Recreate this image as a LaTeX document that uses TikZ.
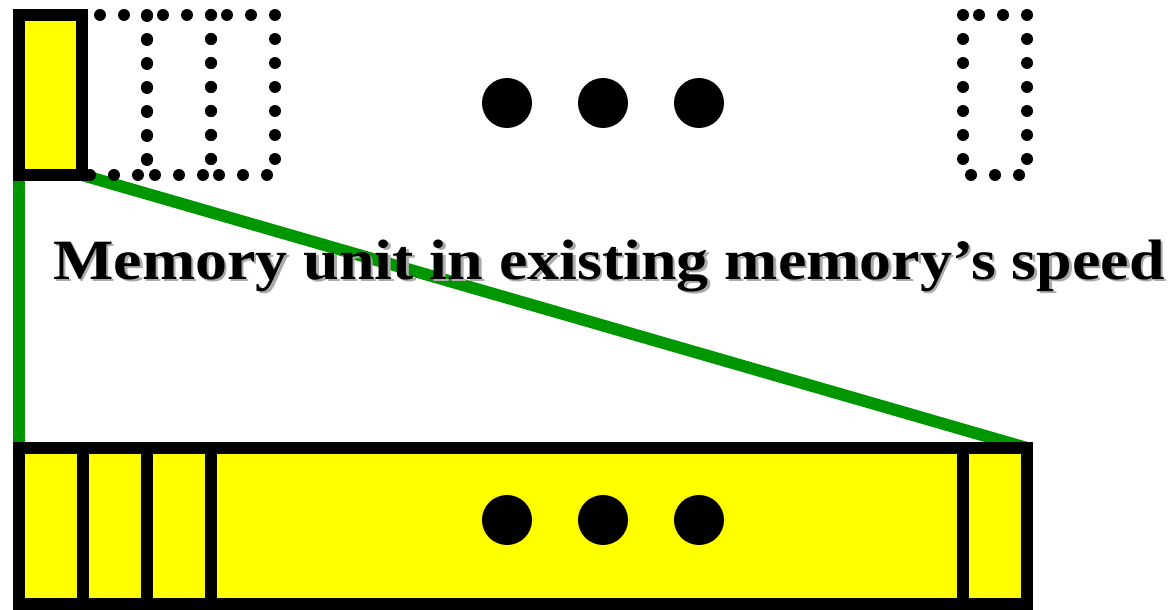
\documentclass[tikz,border=0pt]{standalone}
\usepackage{fontspec}
\setmainfont{Liberation Serif}
\usetikzlibrary{positioning, calc, backgrounds}
\definecolor{vert}{RGB}{0,150,0}
\definecolor{jaune}{RGB}{255,255,0}
\definecolor{ombre}{RGB}{170,170,170}

\begin{document}
\begin{tikzpicture}[x=0.5pt, y=-0.5pt,
				cell/.style={draw=black, fill=jaune, line width=6pt, inner sep=0pt, outer sep=0pt,
					minimum width=32pt, minimum height=80pt},
				vide/.style={inner sep=0pt, outer sep=0pt,
					minimum width=32pt, minimum height=80pt},
				pointille/.style={draw=black, line width=6pt, line cap=round,
					dash pattern=on 0pt off 12pt},
				bar/.style={draw=black, fill=jaune, line width=6pt, inner sep=0pt, outer sep=0pt,
					minimum height=78pt},
				pt/.style={circle, fill=black, inner sep=0pt, minimum size=25pt},
				lien/.style={draw=vert, line width=6pt},
				titre/.style={anchor=base west, inner sep=0pt,
					font=\fontsize{28.5}{30}\selectfont\bfseries}
				]
				\useasboundingbox (0,0) rectangle (1174,610);
				
				% Ligne du haut
				\node[vide, minimum width=32.5pt] (v1) at (114.5,95) {};
				\node[vide] (v2) at (179,95) {};
				\node[vide] (v3) at (243,95) {};
				\node[vide] (vn) at (995,95) {};
				\foreach \v in {v1, v2, v3, vn}
				\draw[pointille] (\v.north west) rectangle (\v.south east);
				\node[cell, minimum width=31.5pt] (c0) at (50.5,95) {};
				\foreach \i/\x in {1/507, 2/603, 3/699}
				\node[pt] (h\i) at (\x,103) {};
				
				% Ligne du bas
				\node[bar, minimum width=32pt] (b1) at (51,526) {};
				\node[bar, minimum width=32pt] (b2) at (115,526) {};
				\node[bar, minimum width=32pt] (b3) at (179,526) {};
				\node[bar, minimum width=376pt] (bm) at (587,526) {};
				\node[bar, minimum width=32pt] (bn) at (995,526) {};
				\foreach \i/\x in {1/507, 2/603, 3/699}
				\node[pt] (p\i) at (\x,520) {};
				
				% Liens (derriere les cases)
				\begin{pgfonlayer}{background}
				\draw[lien] (c0.south west) -- (b1.north west);
				\draw[lien] (c0.south east) -- (bn.north east);
				\end{pgfonlayer}
				
				% Texte
				\node[titre, text=ombre] at (55.5,281.5) {\scalebox{1.122}[1]{Memory unit in existing memory’s speed}};
				\node[titre] (txt) at (53,279) {\scalebox{1.122}[1]{Memory unit in existing memory’s speed}};
			\end{tikzpicture}
\end{document}
